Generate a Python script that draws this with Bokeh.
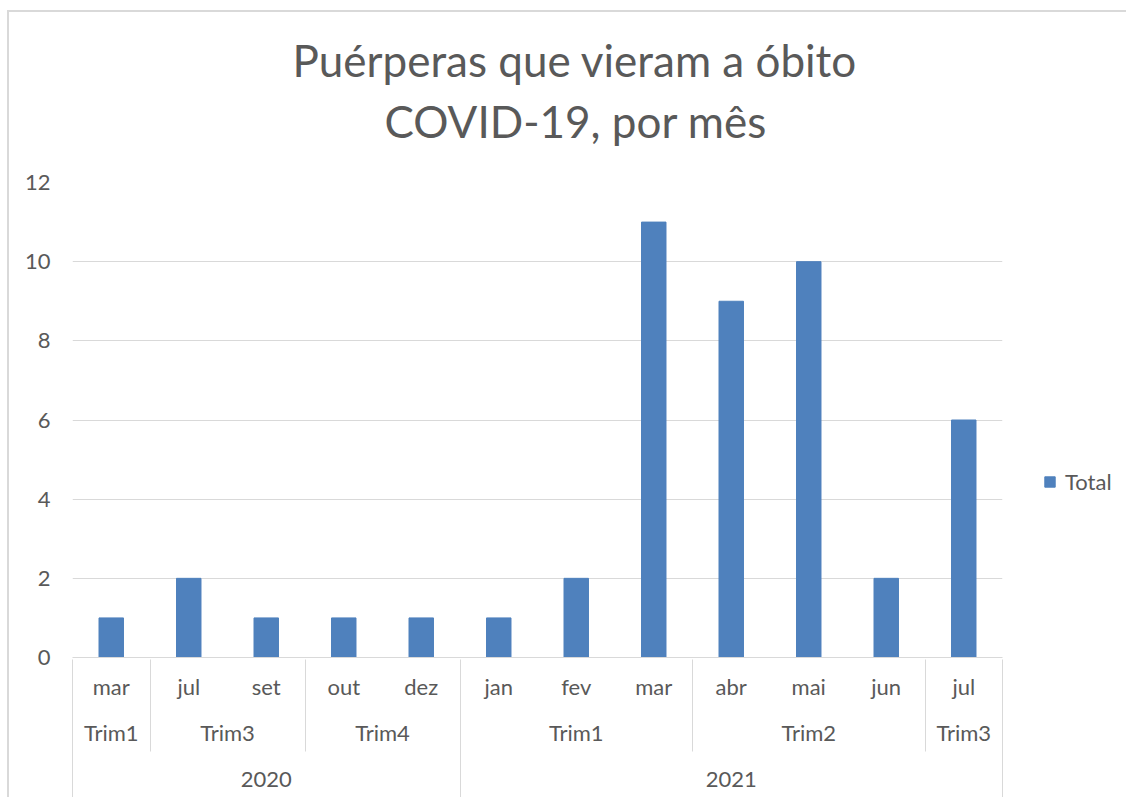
from bokeh.plotting import figure
from bokeh.models import (Range1d, FixedTicker, LinearAxis, Title, Legend,
                          LegendItem, ColumnDataSource)
from bokeh.embed import file_html
from bokeh.resources import INLINE

# ---- data ----
months = ["mar", "jul", "set", "out", "dez", "jan", "fev", "mar", "abr", "mai", "jun", "jul"]
trims = ["Trim1", "Trim3", "Trim3", "Trim4", "Trim4", "Trim1", "Trim1", "Trim1",
         "Trim2", "Trim2", "Trim2", "Trim3"]
years = ["2020", "2020", "2020", "2020", "2020", "2021", "2021", "2021", "2021",
         "2021", "2021", "2021"]
totals = [1, 2, 1, 1, 1, 1, 2, 11, 9, 10, 2, 6]
y_ticks = [0, 2, 4, 6, 8, 10, 12]
title_lines = ["Puérperas que vieram a óbito", "COVID-19, por mês"]
series_name = "Total"

FONT = "Lato"
TXT = "#595959"
GRID = "#d9d9d9"
BAR = "#4f81bd"
LBL = "22px"

idx = list(range(len(months)))


def runs(keys):
    """consecutive runs -> (label, first index, last index)"""
    out = []
    start = 0
    for i in range(1, len(keys) + 1):
        if i == len(keys) or keys[i] != keys[start]:
            out.append((keys[start], start, i - 1))
            start = i
    return out


trim_runs = runs(list(zip(years, trims)))
year_runs = runs(years)
trim_centers = [(a + b) / 2 for _, a, b in trim_runs]
trim_labels = {(a + b) / 2: k[1] for k, a, b in trim_runs}
year_centers = [(a + b) / 2 for _, a, b in year_runs]
year_labels = {(a + b) / 2: k for k, a, b in year_runs}
trim_bounds = sorted(set([a - 0.5 for _, a, b in trim_runs] + [b + 0.5 for _, a, b in trim_runs]))
year_bounds = sorted(set([a - 0.5 for _, a, b in year_runs] + [b + 0.5 for _, a, b in year_runs]))

p = figure(frame_width=930, frame_height=475,
           x_range=Range1d(-0.5, len(months) - 0.5), y_range=Range1d(0, 12),
           output_backend="svg", toolbar_location=None, title_location=None,
           min_border_left=63, min_border_right=110, min_border_top=170,
           min_border_bottom=0, outline_line_color=None)
p.styles = {"border-top": "2px solid #d9d9d9", "border-left": "2px solid #d9d9d9",
            "margin-top": "10px", "margin-left": "7px"}

src = ColumnDataSource(dict(x=idx, top=totals))
r = p.vbar(x="x", top="top", width=0.316, source=src, fill_color=BAR, line_color=BAR)

# y axis
p.yaxis.ticker = FixedTicker(ticks=y_ticks)
p.yaxis.axis_line_color = None
p.yaxis.major_tick_line_color = None
p.yaxis.minor_tick_line_color = None
p.yaxis.major_label_text_font = FONT
p.yaxis.major_label_text_font_size = LBL
p.yaxis.major_label_text_color = TXT
p.yaxis.major_label_standoff = 16
p.ygrid.ticker = FixedTicker(ticks=y_ticks)
p.ygrid.grid_line_color = GRID
p.xgrid.visible = False


def style_axis(ax, standoff):
    ax.major_tick_line_color = None
    ax.minor_tick_line_color = None
    ax.major_tick_out = 0
    ax.major_tick_in = 0
    ax.minor_tick_out = 0
    ax.minor_tick_in = 0
    ax.major_label_text_font = FONT
    ax.major_label_text_font_size = LBL
    ax.major_label_text_color = TXT
    ax.major_label_standoff = standoff


# month level (the figure's own x axis)
xa = p.xaxis[0]
xa.ticker = FixedTicker(ticks=idx)
xa.major_label_overrides = {i: m for i, m in zip(idx, months)}
style_axis(xa, 15)
xa.axis_line_color = GRID
xa.axis_line_width = 1

# trimester level
ta = LinearAxis(ticker=FixedTicker(ticks=trim_centers), major_label_overrides=trim_labels)
style_axis(ta, 16)
ta.axis_line_color = None
p.add_layout(ta, "below")

# year level, its minor ticks are the trimester separators
ya = LinearAxis(ticker=FixedTicker(ticks=year_centers, minor_ticks=trim_bounds),
                major_label_overrides=year_labels)
style_axis(ya, 20)
ya.axis_line_color = None
ya.minor_tick_line_color = GRID
ya.minor_tick_line_width = 1
ya.minor_tick_in = 89
ya.minor_tick_out = 3
p.add_layout(ya, "below")

# outer separators (year boundaries), overlapping the trimester separators
sa = LinearAxis(ticker=FixedTicker(ticks=year_bounds),
                major_label_overrides={b: "" for b in year_bounds})
style_axis(sa, 0)
sa.axis_line_color = None
sa.major_label_text_font_size = "0px"
sa.major_tick_line_color = GRID
sa.major_tick_line_width = 1
sa.major_tick_in = 87
sa.major_tick_out = 8
p.add_layout(sa, "below")

# titles: a spacer next to the frame, then line 2, then line 1 (outermost);
# left aligned with offsets so that they are centred where the reference has them
p.add_layout(Title(text=" ", text_font_size="10px", standoff=19), "above")
title_specs = [(title_lines[0], 220, 7), (title_lines[1], 312, 7)]
for txt, off, so in reversed(title_specs):
    p.add_layout(Title(text=txt, align="left", offset=off, text_font=FONT,
                       text_font_size="44px", text_font_style="normal",
                       text_color=TXT, standoff=so), "above")

legend = Legend(items=[LegendItem(label=series_name, renderers=[r])],
                location=(41, 162), orientation="vertical",
                glyph_width=13, glyph_height=13, label_standoff=9,
                padding=0, margin=0, border_line_color=None,
                background_fill_alpha=0, label_text_font=FONT,
                label_text_font_size=LBL, label_text_color=TXT)
p.add_layout(legend, "right")

open("out.html", "w").write(file_html(p, INLINE))
